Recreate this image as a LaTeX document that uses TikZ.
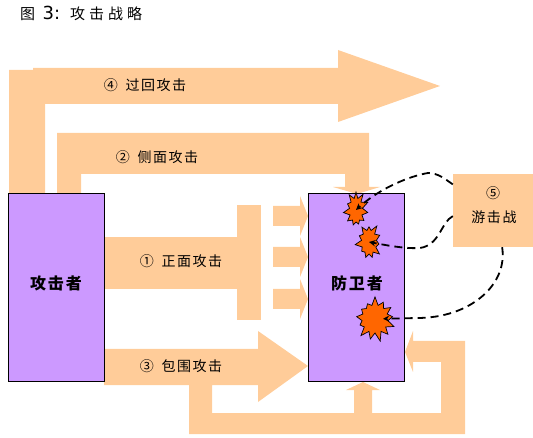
\documentclass[tikz,border=0pt]{standalone}
\usepackage{fontspec}
\usepackage{tikz}
\usetikzlibrary{shapes.symbols}
\newfontfamily\cjklabel[LetterSpace=11]{Noto Sans CJK SC}
\newfontfamily\cjktitle[LetterSpace=27]{Noto Sans CJK SC}
\newfontfamily\verdanaish{DejaVu Sans}
\definecolor{flow}{HTML}{FFCC99}
\definecolor{side}{HTML}{CC99FF}
\definecolor{blast}{HTML}{FF6600}
\tikzset{
  flowfill/.style={fill=flow,draw=none},
  sidebox/.style={draw=black,line width=1pt,fill=side,minimum width=96pt,minimum height=188pt,inner sep=0pt},
  steplabel/.style={font=\cjklabel\fontsize{14}{16}\selectfont,inner sep=0pt},
  sidelabel/.style={font=\cjklabel\bfseries\fontsize{16}{18}\selectfont,inner sep=0pt},
  blastmark/.style={starburst,draw=black,line width=0.7pt,fill=blast,inner sep=0pt},
  raidline/.style={draw=black,line width=1.8pt,dash pattern=on 8pt off 5pt,->,>=stealth}
}
\begin{document}
\begin{tikzpicture}[x=1pt,y=-1pt]
  \useasboundingbox (0,0) rectangle (533,438);
  \node[font=\cjktitle\fontsize{15}{18}\selectfont,inner sep=0pt,anchor=west] (title) at (20,13) {图 {\verdanaish\fontsize{18}{18}\selectfont 3:} 攻击战略};
  % arrow 4: round the far side
  \fill[flowfill] (9,194) -- (9,70) -- (33,70) -- (33,68) -- (338,68) -- (338,50) -- (440,86)
    -- (338,122) -- (338,104) -- (45,104) -- (45,194) -- cycle;
  % arrow 2: over the top
  \fill[flowfill] (57,194) -- (57,133) -- (369,133) -- (369,187) -- (380,187) -- (357,194)
    -- (333,187) -- (345,187) -- (345,174) -- (81,174) -- (81,194) -- cycle;
  % arrow 1: straight in, bar and three small arrows
  \fill[flowfill] (104,237) rectangle (237,289);
  \fill[flowfill] (237,205) rectangle (261,320);
  \foreach \y in {216,257,299} {
    \fill[flowfill] (273,\y-10) -- (300,\y-10) -- (300,\y-20) -- (308,\y) -- (300,\y+20)
      -- (300,\y+10) -- (273,\y+10) -- cycle;
  }
  % arrow 3: below and behind
  \fill[flowfill] (104,349) -- (258,349) -- (258,331) -- (308,366) -- (258,402) -- (258,385)
    -- (212,385) -- (212,413) -- (441,413) -- (441,362) -- (413,362) -- (413,372) -- (405,352)
    -- (413,331) -- (413,341) -- (465,341) -- (465,434) -- (189,434) -- (189,385) -- (104,385) -- cycle;
  \fill[flowfill] (354,413) -- (354,390) -- (346,390) -- (363,382) -- (380,390) -- (372,390) -- (372,413) -- cycle;
  % the two sides
  \node[sidebox] (attacker) at (56,288) {};
  \node[sidebox] (defender) at (356,288) {};
  \node[sidelabel] (attackername) at (56,283) {攻击者};
  \node[sidelabel] (defendername) at (357,283) {防卫者};
  % raid box
  \node[flowfill,minimum width=80pt,minimum height=73pt,inner sep=0pt] (raid) at (493,210.5) {};
  \node[steplabel] (raidnum) at (493,193) {⑤};
  \node[steplabel] (raidname) at (494,217) {游击战};
  % labels on the arrows
  \node[steplabel] (flank4) at (145,85) {④\hspace{3pt} 过回攻击};
  \node[steplabel] (flank2) at (157,157) {②\hspace{3pt} 侧面攻击};
  \node[steplabel] (front1) at (181,261) {①\hspace{3pt} 正面攻击};
  \node[steplabel] (wrap3) at (181,366) {③\hspace{3pt} 包围攻击};
  % hits
  \node[blastmark,minimum width=27pt,minimum height=38pt,starburst points=11,starburst point height=7pt,random starburst=4] (hit1) at (356,210) {};
  \node[blastmark,minimum width=29pt,minimum height=38pt,starburst points=11,starburst point height=7pt,random starburst=9] (hit2) at (369,242) {};
  \node[blastmark,minimum width=44pt,minimum height=46pt,starburst points=13,starburst point height=9pt,random starburst=7] (hit3) at (375,319) {};
  % guerrilla routes
  \draw[raidline] (raid.147) .. controls (445,179) and (438,173) .. (428,173) .. controls (410,176) and (380,188) .. (hit1.center);
  \draw[raidline] (raid.188) .. controls (441,222) and (440,245) .. (420,248) .. controls (405,249) and (385,245) .. (hit2.center);
  \draw[raidline,shorten >=8pt] (raid.284) .. controls (508,285) and (470,318) .. (417,318) -- (hit3.center);
\end{tikzpicture}
\end{document}
